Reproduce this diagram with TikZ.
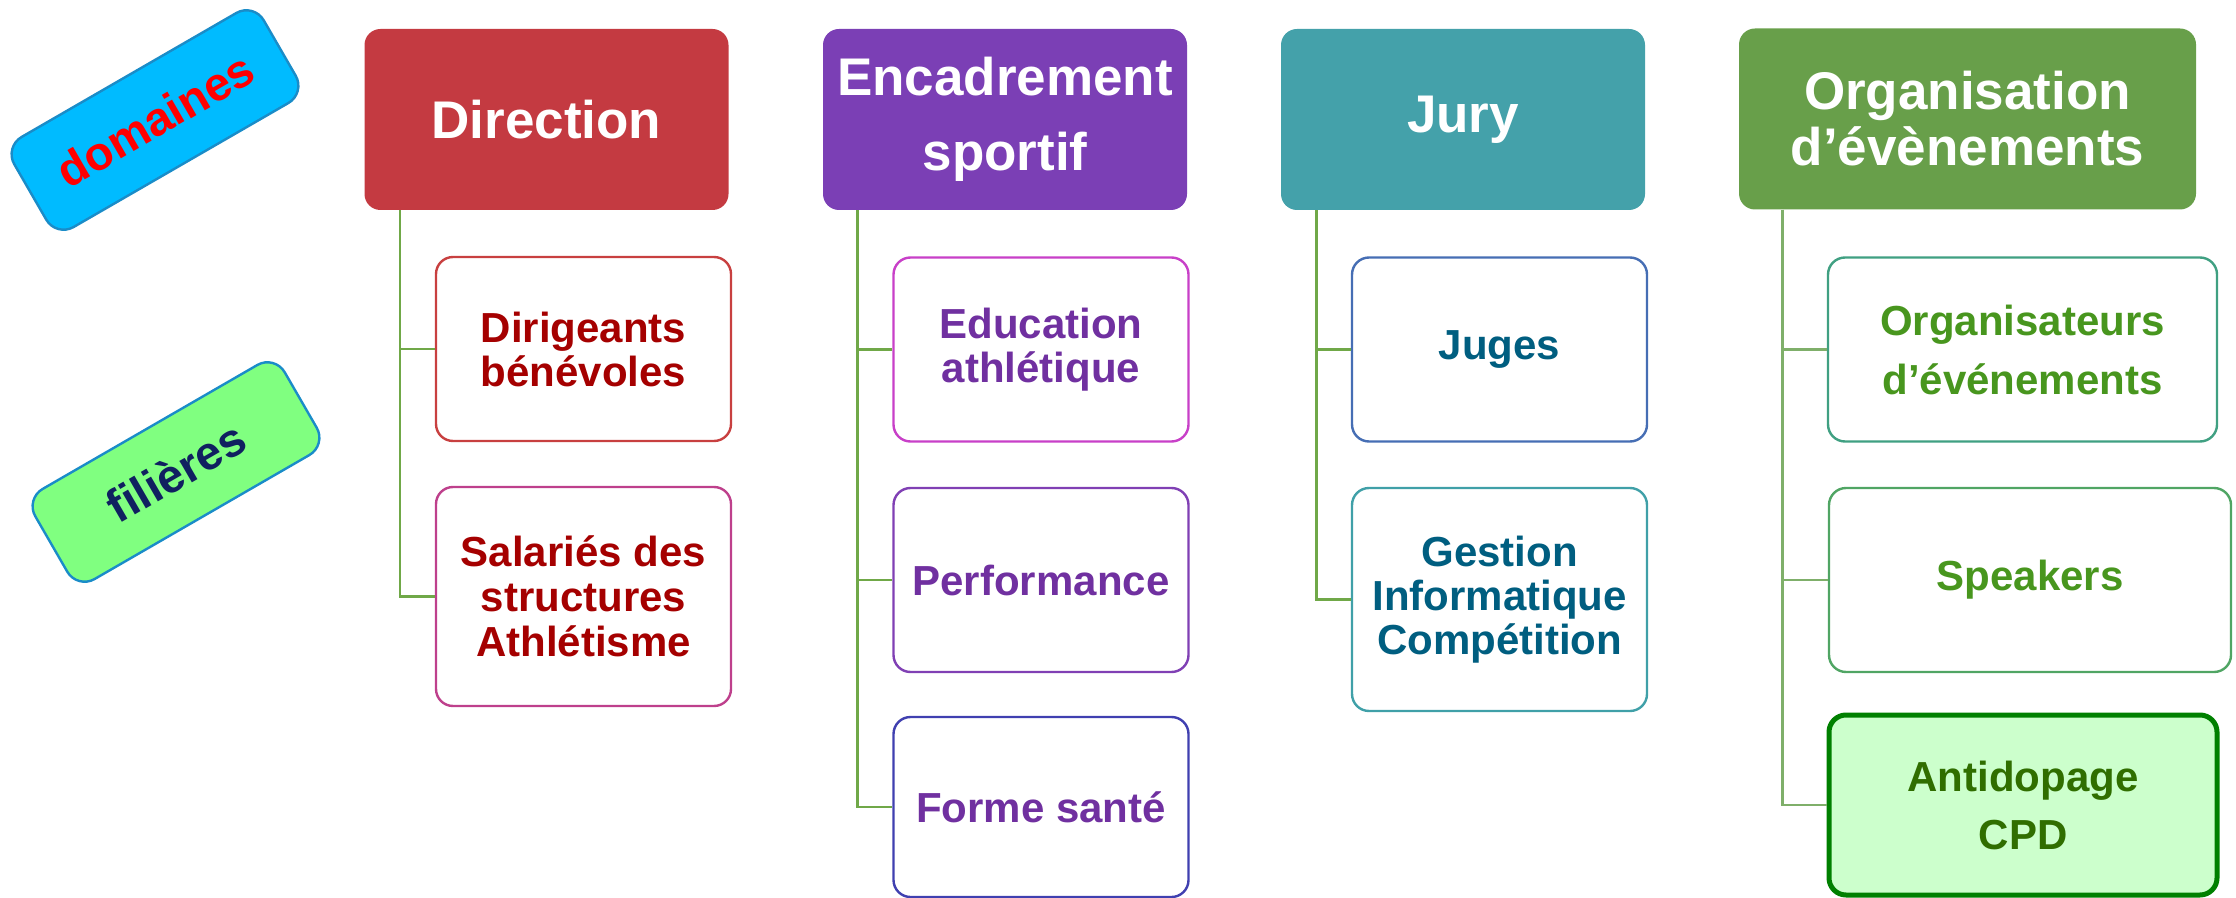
\documentclass[tikz,border=0pt]{standalone}
\usepackage{fontspec}
\setmainfont{Liberation Sans}
\definecolor{dirR}{RGB}{196,58,65}
\definecolor{encP}{RGB}{123,63,181}
\definecolor{juryT}{RGB}{68,161,170}
\definecolor{orgG}{RGB}{104,159,74}
\definecolor{txtR}{RGB}{165,0,0}
\definecolor{txtP}{RGB}{112,48,160}
\definecolor{txtT}{RGB}{0,94,128}
\definecolor{txtG}{RGB}{72,150,30}
\definecolor{txtDG}{RGB}{48,110,0}
\definecolor{bA}{RGB}{200,64,64}
\definecolor{bB}{RGB}{190,64,140}
\definecolor{bC}{RGB}{200,64,200}
\definecolor{bD}{RGB}{128,64,180}
\definecolor{bE}{RGB}{64,64,176}
\definecolor{bF}{RGB}{70,110,180}
\definecolor{bG}{RGB}{64,160,168}
\definecolor{bH}{RGB}{64,160,130}
\definecolor{bI}{RGB}{80,165,100}
\definecolor{bJ}{RGB}{0,128,0}
\definecolor{fJ}{RGB}{204,255,204}
\definecolor{connG}{RGB}{112,168,72}
\definecolor{connL}{RGB}{127,175,106}
\definecolor{skyB}{RGB}{0,187,255}
\definecolor{mintG}{RGB}{128,255,128}
\definecolor{labB}{RGB}{26,140,200}
\definecolor{navy}{RGB}{16,32,96}
\begin{document}
\begin{tikzpicture}[x=0.5pt,y=-0.5pt,
  hd/.style={rectangle, rounded corners=8pt, inner sep=0pt, text=white, align=center,
    font=\bfseries\fontsize{26.5}{30}\selectfont, minimum width=182pt, minimum height=90.5pt},
  ch/.style={rectangle, rounded corners=8.5pt, draw, line width=1.2pt, fill=white, inner sep=0pt,
    align=center, font=\bfseries\fontsize{21}{22}\selectfont, minimum width=147.5pt, minimum height=92pt},
  conn/.style={draw=connG, line width=1.2pt},
  lab/.style={rectangle, rounded corners=10pt, draw=labB, line width=1.2pt, inner sep=0pt,
    minimum width=144pt, minimum height=52pt, font=\bfseries\fontsize{23.5}{23.5}\selectfont, rotate=30}
]
\useasboundingbox (0,0) rectangle (2236,898);

% left labels
\node[lab, fill=skyB, text=red] (dom) at (155,120) {domaines};
\node[lab, fill=mintG, text=navy] (fil) at (176,472) {filières};

% column 1
\node[hd, fill=dirR] (h1) at (546.5,119.5) {Direction};
\node[ch, draw=bA, text=txtR] (c11) at (583.5,349) {Dirigeants\\bénévoles};
\node[ch, draw=bB, text=txtR, minimum height=109.5pt, font=\bfseries\fontsize{21}{22.5}\selectfont] (c12) at (583.5,596.5) {Salariés des\\structures\\Athlétisme};
\draw[conn] ([xshift=18pt]h1.south west) |- (c11.west);
\draw[conn] ([xshift=18pt]h1.south west) |- (c12.west);

% column 2
\node[hd, fill=encP, font=\bfseries\fontsize{26.5}{37.5}\selectfont] (h2) at (1005,119.5) {Encadrement\\sportif};
\node[ch, draw=bC, text=txtP] (c21) at (1041,349.5) {Education\\athlétique};
\node[ch, draw=bD, text=txtP] (c22) at (1041,580) {Performance};
\node[ch, draw=bE, text=txtP, minimum height=90pt] (c23) at (1041,807) {Forme santé};
\draw[conn] ([xshift=17.5pt]h2.south west) |- (c21.west);
\draw[conn] ([xshift=17.5pt]h2.south west) |- (c22.west);
\draw[conn] ([xshift=17.5pt]h2.south west) |- (c23.west);

% column 3
\node[hd, fill=juryT] (h3) at (1463,119.5) {Jury};
\node[ch, draw=bF, text=txtT] (c31) at (1499.5,349.5) {Juges};
\node[ch, draw=bG, text=txtT, minimum height=111.5pt] (c32) at (1499.5,599.5) {Gestion\\Informatique\\Compétition};
\draw[conn] ([xshift=18pt]h3.south west) |- (c31.west);
\draw[conn] ([xshift=18pt]h3.south west) |- (c32.west);

% column 4
\node[hd, fill=orgG, minimum width=228.5pt, font=\bfseries\fontsize{26.5}{28}\selectfont] (h4) at (1967.5,119) {Organisation\\d’évènements};
\node[ch, draw=bH, text=txtG, minimum width=194.5pt, font=\bfseries\fontsize{21}{29.5}\selectfont] (c41) at (2022.5,349.5) {Organisateurs\\d’événements};
\node[ch, draw=bI, text=txtG, minimum width=201pt] (c42) at (2030,580) {Speakers};
\node[ch, draw=bJ, fill=fJ, line width=2.5pt, text=txtDG, minimum width=194pt, minimum height=90pt, font=\bfseries\fontsize{21}{29}\selectfont] (c43) at (2023,805) {Antidopage\\CPD};
\draw[conn, draw=connL] ([xshift=22pt]h4.south west) |- (c41.west);
\draw[conn, draw=connL] ([xshift=22pt]h4.south west) |- (c42.west);
\draw[conn, draw=connL] ([xshift=22pt]h4.south west) |- (c43.west);
\end{tikzpicture}
\end{document}
